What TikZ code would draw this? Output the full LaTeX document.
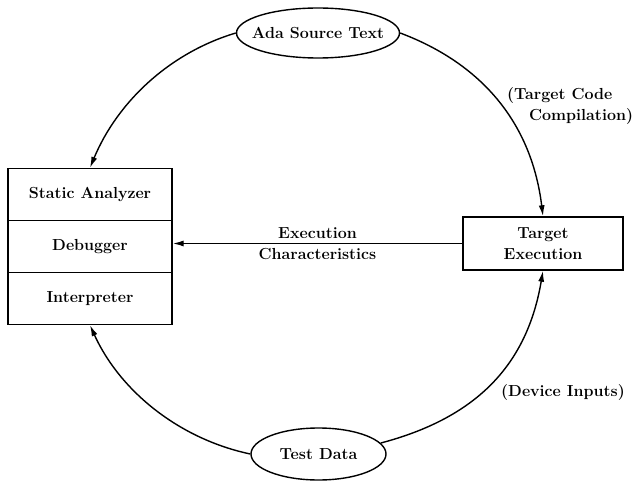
\documentclass[tikz,border=0pt]{standalone}
\usetikzlibrary{shapes.geometric,arrows.meta}
\begin{document}
\begin{tikzpicture}[x=1pt,y=-1pt,
  every node/.append style={font=\fontsize{16}{20.5}\selectfont\bfseries},
  lw/.style={line width=1.4pt},
  oval/.style={ellipse,draw,lw,inner sep=0pt},
  cell/.style={rectangle,draw,lw,minimum width=164pt,minimum height=52pt,inner sep=0pt},
  tbox/.style={rectangle,draw,lw,minimum width=160pt,minimum height=53pt,inner sep=0pt,align=center},
  arr/.style={lw,-{Latex[length=11pt,width=6pt]}},
  lbl/.style={inner sep=0pt}]
\useasboundingbox (0,0) rectangle (635,481);
\node[oval,minimum width=163pt,minimum height=50pt,label=center:{Ada Source Text}] (ada) at (318,33) {};
\node[oval,minimum width=135pt,minimum height=52pt,label=center:{Test Data}] (td) at (318.5,454) {};
\node[cell] (sa) at (90,194.5) {Static Analyzer};
\node[cell] (dbg) at (90,246.5) {Debugger};
\node[cell] (int) at (90,298.5) {Interpreter};
\node[tbox] (te) at (543,243.5) {Target\\Execution};
\draw[arr] (te.west) -- node[midway,align=center,lbl] {Execution\\Characteristics} (te.west -| dbg.east);
\draw[arr] (ada.west) .. controls +(-67,20) and +(27,-65) .. (sa.north);
\draw[arr] (ada.east) .. controls +(85,32) and +(-11,-90) .. (te.north);
\draw[arr] (td.west) .. controls +(-71,-15) and +(30,66) .. (int.south);
\draw[arr] (td.10) .. controls +(95,-25) and +(-16,95) .. (te.south);
\node[lbl,anchor=west,align=left] (tcc) at (507,106) {(Target Code\\\hspace*{22pt}Compilation)};
\node[lbl] (di) at (563,393) {(Device Inputs)};
\end{tikzpicture}
\end{document}
